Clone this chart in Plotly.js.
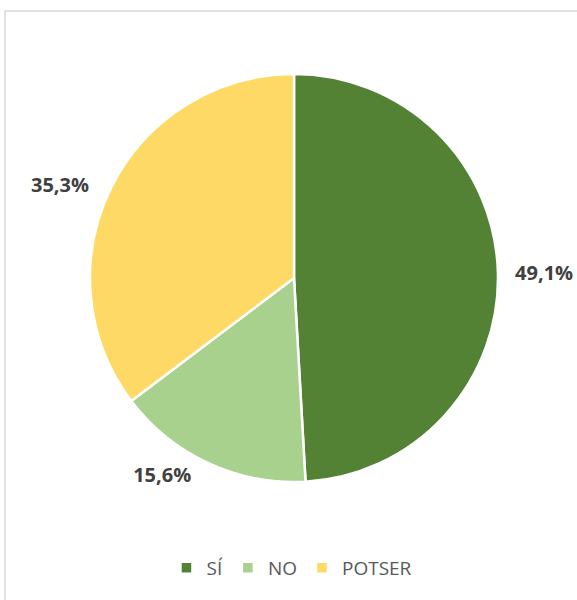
<!DOCTYPE html>
<html>
<head>
<meta charset="utf-8">
<script src="https://cdn.plot.ly/plotly-3.0.1.min.js"></script>
<style>html,body{margin:0;padding:0;background:#fff;}#chart{width:577px;height:600px;}</style>
</head>
<body>
<div id="chart"></div>
<script>
const categories = ['SÍ', 'NO', 'POTSER'];
const values = [49.1, 15.6, 35.3];
const colors = ['#548235', '#A9D18E', '#FFD966'];

const W = 577, H = 600;
const cx = 294, cy = 278, r = 204;

// non-breaking spaces nudge the outside labels a little further from the pie
const NB = '\u00a0';
const pads = [[NB + NB, ''], ['', NB + NB], ['', NB + NB + NB]];
const labelTexts = values.map(function (v, i) {
  return pads[i][0] + v.toFixed(1).replace('.', ',') + '%' + pads[i][1];
});

const trace = {
  type: 'pie',
  labels: categories,
  values: values,
  text: labelTexts,
  sort: false,
  direction: 'clockwise',
  rotation: 0,
  marker: {colors: colors, line: {color: '#ffffff', width: 2.5}},
  textposition: 'outside',
  texttemplate: '%{text}',
  textfont: {family: 'Open Sans', size: 20, color: '#404040', weight: 'bold'},
  hoverinfo: 'label+percent',
  domain: {x: [(cx - r) / W, (cx + r) / W], y: [1 - (cy + r) / H, 1 - (cy - r) / H]},
  automargin: false
};

const layout = {
  width: W, height: H,
  margin: {l: 0, r: 0, t: 0, b: 0},
  paper_bgcolor: '#ffffff',
  separators: ',.',
  showlegend: true,
  legend: {
    orientation: 'h', x: 0.506, xanchor: 'center', y: 1 - 568 / H, yanchor: 'middle',
    font: {family: 'Open Sans', size: 19, color: '#595959'},
    itemwidth: 30, traceorder: 'normal'
  },
  shapes: [{
    type: 'rect', xref: 'paper', yref: 'paper',
    x0: 5 / W, x1: 1.02, y0: -0.02, y1: 1 - 11 / H,
    line: {color: '#d9d9d9', width: 1.5}, fillcolor: 'rgba(0,0,0,0)'
  }]
};

Plotly.newPlot('chart', [trace], layout, {displayModeBar: false, staticPlot: true});
</script>
</body>
</html>
